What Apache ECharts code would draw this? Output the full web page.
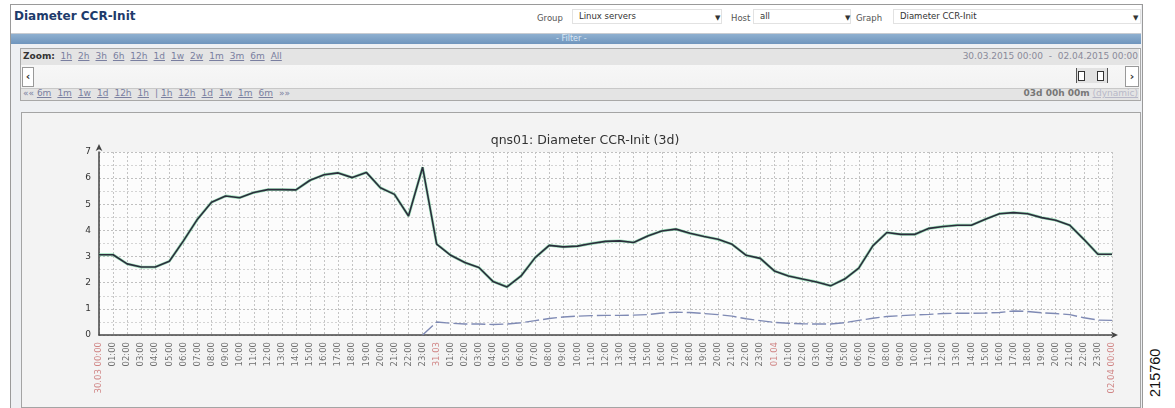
<!DOCTYPE html>
<html>
<head>
<meta charset="utf-8">
<script src="https://cdn.jsdelivr.net/npm/echarts@6/dist/echarts.min.js"></script>
<style>
  html,body{margin:0;padding:0;background:#fff;width:1175px;height:408px;overflow:hidden;font-family:"DejaVu Sans",Verdana,sans-serif;}
  .abs{position:absolute;white-space:nowrap;}
  #outer{left:10px;top:4px;width:1131px;height:404px;border:1px solid #9a9a9a;border-bottom:none;background:#eef0f3;}
  #hdr{left:11px;top:5px;width:1130px;height:28px;background:#fff;border-bottom:1px solid #c8ccd2;}
  #title{left:14px;top:9px;font-size:12px;font-weight:bold;color:#1e3b6b;}
  .lbl{font-size:8.5px;color:#555;top:13px;}
  .sel{top:9px;height:15px;background:#fff;border:1px solid #e2e2e2;font-size:8.5px;color:#333;line-height:13px;padding-left:6px;box-sizing:border-box;}
  .arr{font-size:7px;color:#333;top:14px;}
  #filter{left:11px;top:34px;width:1130px;height:10px;background:linear-gradient(#8fb0d0,#6f95bd);}
  #filtertxt{left:556px;top:34px;font-size:8px;color:#dce8f5;line-height:10px;}
  #zbox{left:20px;top:48px;width:1119px;height:51px;border:1px solid #a8a8a8;background:linear-gradient(#fafafa,#f0f0f0);}
  #zrow1{left:21px;top:49px;width:1118px;height:16px;background:#e4e4e4;}
  #zrow3{left:21px;top:88px;width:1118px;height:11px;background:#e4e4e4;border-top:1px solid #c8c8c8;}
  .zt{font-size:9px;color:#7a7fa0;}
  .zl{text-decoration:underline;margin-right:6px;}
  #frame{left:21px;top:112px;width:1118px;height:294px;border:1px solid #a4a4a4;background:#f3f3f3;}
  #chart{left:0;top:0;width:1175px;height:408px;}
  #wm{left:1147px;top:397px;transform-origin:0 0;transform:rotate(-90deg);font-family:"Liberation Sans",Arial,sans-serif;font-size:14.5px;color:#111;}
</style>
</head>
<body>
<div id="outer" class="abs"></div>
<div id="hdr" class="abs"></div>
<div id="title" class="abs">Diameter CCR-Init</div>
<div class="abs lbl" style="left:537px;">Group</div>
<div class="abs sel" style="left:572px;width:150px;">Linux servers</div>
<div class="abs arr" style="left:715px;">▼</div>
<div class="abs lbl" style="left:731px;">Host</div>
<div class="abs sel" style="left:753px;width:98px;">all</div>
<div class="abs arr" style="left:845px;">▼</div>
<div class="abs lbl" style="left:856px;">Graph</div>
<div class="abs sel" style="left:893px;width:248px;">Diameter CCR-Init</div>
<div class="abs arr" style="left:1133px;">▼</div>
<div id="filter" class="abs"></div>
<div id="filtertxt" class="abs">- Filter -</div>
<div id="zbox" class="abs"></div>
<div id="zrow1" class="abs"></div>
<div id="zrow3" class="abs"></div>
<div class="abs zt" style="left:23px;top:51px;"><b style="color:#333;">Zoom:</b>&nbsp; <span class="zl">1h</span><span class="zl">2h</span><span class="zl">3h</span><span class="zl">6h</span><span class="zl">12h</span><span class="zl">1d</span><span class="zl">1w</span><span class="zl">2w</span><span class="zl">1m</span><span class="zl">3m</span><span class="zl">6m</span><span class="zl">All</span></div>
<div class="abs" style="left:22px;top:67px;width:10px;height:18px;background:#fff;border:1px solid #999;font-size:11px;font-weight:bold;line-height:18px;text-align:center;color:#333;">&lsaquo;</div>
<div class="abs zt" style="left:23px;top:88px;">«« <span class="zl">6m</span><span class="zl">1m</span><span class="zl">1w</span><span class="zl">1d</span><span class="zl">12h</span><span class="zl">1h</span>| <span class="zl">1h</span><span class="zl">12h</span><span class="zl">1d</span><span class="zl">1w</span><span class="zl">1m</span><span class="zl">6m</span>»»</div>
<div class="abs zt" style="right:37px;top:51px;color:#8a8a9a;">30.03.2015 00:00 &nbsp;-&nbsp; 02.04.2015 00:00</div>
<div class="abs" style="left:1076px;top:68px;width:30px;height:15px;border:1px solid #555;border-top:none;border-bottom:none;background:#e2e2e2;"></div>
<div class="abs" style="left:1078px;top:71px;width:5px;height:8px;border:1px solid #333;background:#fff;"></div>
<div class="abs" style="left:1097px;top:71px;width:5px;height:8px;border:1px solid #333;background:#fff;"></div>
<div class="abs" style="left:1125px;top:66px;width:12px;height:19px;background:#fff;border:1px solid #999;font-size:11px;font-weight:bold;line-height:19px;text-align:center;color:#333;">&rsaquo;</div>
<div class="abs zt" style="right:37px;top:88px;color:#777;"><b>03d 00h 00m</b> <span style="color:#b8b8c8;text-decoration:underline;">(dynamic)</span></div>
<div id="frame" class="abs"></div>
<div id="wm" class="abs">215760</div>
<div id="chart" class="abs"></div>
<script>
// hourly values, 30.03 00:00 .. 02.04 00:00 (73 points)
var hours = [];
for (var i = 0; i <= 72; i++) hours.push(i);
var dayLabels = ['30.03 00:00', '31.03', '01.04', '02.04 00:00'];
var yTicks = [0, 1, 2, 3, 4, 5, 6, 7];
var mainValues = [
  3.07,3.07,2.72,2.60,2.60,2.82,3.60,4.43,5.08,5.32,5.25,5.45,5.56,5.56,5.55,5.92,6.13,6.20,6.02,6.22,5.63,5.38,4.55,6.42,
  3.48,3.05,2.77,2.58,2.05,1.84,2.26,2.96,3.43,3.37,3.40,3.50,3.58,3.60,3.54,3.79,3.98,4.05,3.89,3.77,3.66,3.47,3.05,2.93,
  2.45,2.26,2.14,2.03,1.88,2.14,2.56,3.41,3.92,3.85,3.85,4.08,4.15,4.20,4.20,4.43,4.64,4.68,4.64,4.49,4.39,4.20,3.66,3.09,3.09
];
var lowerValues = [
  null,null,null,null,null,null,null,null,null,null,null,null,null,null,null,null,null,null,null,null,null,null,null,0.00,
  0.50,0.45,0.42,0.42,0.40,0.42,0.47,0.55,0.63,0.69,0.72,0.74,0.75,0.75,0.76,0.78,0.84,0.87,0.86,0.82,0.78,0.72,0.62,0.55,
  0.48,0.45,0.43,0.42,0.42,0.47,0.56,0.64,0.71,0.74,0.77,0.79,0.82,0.83,0.83,0.84,0.86,0.92,0.90,0.85,0.82,0.78,0.66,0.57,0.56
];
function pairs(vals){ return hours.map(function(h, i){ return [h, vals[i]]; }); }
function hourLabel(v){
  if (v % 24 === 0) return '{d|' + dayLabels[v / 24] + '}';
  var h = v % 24;
  return (h < 10 ? '0' : '') + h + ':00';
}
var chart = echarts.init(document.getElementById('chart'), null, {renderer: 'canvas'});
chart.setOption({
  backgroundColor: 'transparent',
  animation: false,
  title: {
    text: 'qns01: Diameter CCR-Init (3d)',
    left: 580, top: 129, textAlign: 'center',
    textStyle: {fontFamily: 'DejaVu Sans', fontSize: 12.5, fontWeight: 'normal', color: '#333'}
  },
  grid: {left: 99, right: 63, top: 152, bottom: 73, show: true, backgroundColor: '#fcfcfc', borderWidth: 0},
  xAxis: {
    type: 'value', min: 0, max: 72, interval: 1,
    axisLine: {show: true, lineStyle: {color: '#444', width: 1.5}, symbol: ['none', 'arrow'], symbolSize: [5, 7], symbolOffset: [0, 6]},
    axisTick: {show: false},
    splitLine: {show: true, lineStyle: {color: '#c4c4c4', type: [2, 2], width: 1}},
    axisLabel: {
      rotate: 90, margin: 7, fontSize: 8.5, fontFamily: 'DejaVu Sans', color: '#707070',
      showMinLabel: true, showMaxLabel: true,
      formatter: hourLabel,
      rich: {d: {color: '#d08585', fontSize: 8.5, fontFamily: 'DejaVu Sans'}}
    }
  },
  yAxis: {
    type: 'value', min: yTicks[0], max: yTicks[yTicks.length - 1], interval: 1,
    axisLine: {show: true, lineStyle: {color: '#444', width: 1.5}, symbol: ['none', 'arrow'], symbolSize: [5, 7], symbolOffset: [0, 8]},
    axisTick: {show: false},
    axisLabel: {margin: 8, fontSize: 9, fontFamily: 'DejaVu Sans', color: '#333'},
    splitLine: {show: true, lineStyle: {color: '#c0c0c0', type: [2, 2]}},
    minorTick: {show: false, splitNumber: 2},
    minorSplitLine: {show: true, lineStyle: {color: '#d4d4d4', type: [2, 2]}}
  },
  series: [
    {type: 'line', data: pairs(mainValues), symbol: 'none', z: 2,
     lineStyle: {color: '#6fd39a', width: 2.8, opacity: 0.7}},
    {type: 'line', data: pairs(mainValues), symbol: 'none', z: 3,
     lineStyle: {color: '#2c2c3c', width: 1.6}},
    {type: 'line', data: pairs(lowerValues), symbol: 'none', z: 3, connectNulls: false,
     lineStyle: {color: '#7f8ab4', width: 1.4, type: [14, 4]}}
  ]
});
</script>
</body>
</html>
